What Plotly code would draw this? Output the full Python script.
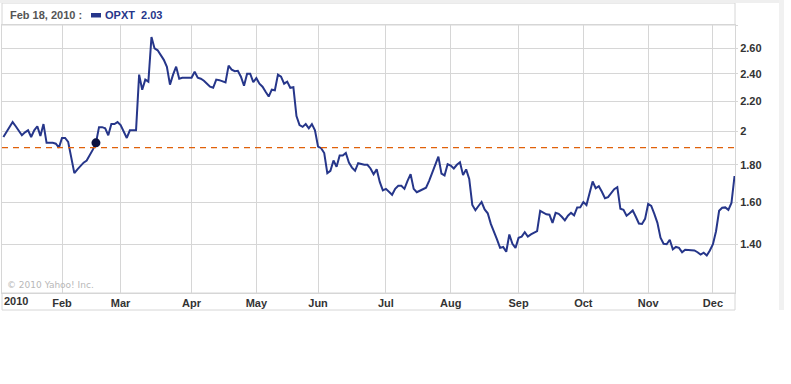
import plotly.graph_objects as go
import math

# Daily closes of OPXT, 2010 (trading days)
jan = [1.965, 1.994, 2.027, 2.060, 2.033, 2.007, 1.976, 1.994, 2.007, 1.965,
       2.007, 2.033, 1.971, 2.047, 1.929, 1.929, 1.929, 1.924, 1.900]
feb = [1.959, 1.959, 1.935, 1.841, 1.753, 1.774, 1.795, 1.812, 1.824, 1.853,
       1.888, 1.929, 2.027, 2.027, 2.020, 1.976, 2.047, 2.047, 2.060]
mar = [2.040, 1.994, 1.959, 2.007, 2.007, 2.007, 2.393, 2.282, 2.356, 2.341,
       2.696, 2.600, 2.585, 2.546, 2.508, 2.454, 2.319, 2.393, 2.454, 2.363,
       2.370, 2.370, 2.370]
apr = [2.370, 2.415, 2.370, 2.363, 2.348, 2.326, 2.304, 2.296, 2.356, 2.352,
       2.344, 2.335, 2.462, 2.431, 2.419, 2.423, 2.378, 2.311, 2.400, 2.400,
       2.337]
may = [2.367, 2.326, 2.304, 2.267, 2.233, 2.282, 2.278, 2.393, 2.378, 2.326,
       2.341, 2.296, 2.300, 2.100, 2.040, 2.029, 2.047, 2.020, 2.047, 2.007]
jun = [1.906, 1.897, 1.868, 1.753, 1.766, 1.824, 1.789, 1.853, 1.853, 1.868,
       1.812, 1.784, 1.766, 1.809, 1.803, 1.800, 1.800, 1.779, 1.747, 1.774,
       1.705, 1.660]
jul = [1.668, 1.653, 1.637, 1.668, 1.684, 1.684, 1.668, 1.711, 1.747, 1.668,
       1.650, 1.658, 1.666, 1.674, 1.711, 1.758, 1.795, 1.847, 1.750, 1.740,
       1.803]
aug = [1.795, 1.779, 1.800, 1.814, 1.742, 1.774, 1.721, 1.585, 1.559, 1.580,
       1.600, 1.563, 1.544, 1.493, 1.459, 1.422, 1.384, 1.388, 1.367, 1.444,
       1.402, 1.384]
sep = [1.429, 1.434, 1.454, 1.434, 1.444, 1.451, 1.459, 1.556, 1.546, 1.539,
       1.537, 1.498, 1.546, 1.541, 1.527, 1.510, 1.532, 1.546, 1.534, 1.573,
       1.574]
oct_ = [1.600, 1.585, 1.653, 1.707, 1.671, 1.682, 1.653, 1.619, 1.625, 1.647,
        1.666, 1.677, 1.566, 1.561, 1.532, 1.544, 1.558, 1.527, 1.495, 1.493,
        1.517]
nov = [1.590, 1.580, 1.541, 1.498, 1.429, 1.402, 1.400, 1.420, 1.378, 1.388,
       1.384, 1.365, 1.376, 1.376, 1.373, 1.373, 1.365, 1.355, 1.363, 1.351,
       1.373]
dec = [1.400, 1.459, 1.556, 1.571, 1.573, 1.561, 1.595, 1.737]

months = [jan, feb, mar, apr, may, jun, jul, aug, sep, oct_, nov, dec]
month_labels = ["2010", "Feb", "Mar", "Apr", "May", "Jun", "Jul", "Aug",
                "Sep", "Oct", "Nov", "Dec"]
y_ticks = [1.4, 1.6, 1.8, 2.0, 2.2, 2.4, 2.6, 2.8]
y_tick_text = ["1.40", "1.60", "1.80", "2", "2.20", "2.40", "2.60", ""]
y_min, y_max = 1.2, 2.8
prev_close = 1.90
hover_index = 30
hover_date = "Feb 18, 2010 :"
symbol = "OPXT"
symbol_value = "2.03"

values = [v for m in months for v in m]
xs = list(range(len(values)))
month_starts = []
acc = 0
for m in months:
    month_starts.append(acc)
    acc += len(m)

GRID = "#d6d6d6"
LINE = "#26368a"
TXT = "#333333"
FONT = "Liberation Sans, Arial, sans-serif"

W, H = 791, 384
ML, MR, MT, MB = 2, 56, 25, 91
PW, PH = W - ML - MR, H - MT - MB


def px_x(p):
    return (p - ML) / PW


def px_y(p):
    return 1 - (p - MT) / PH


fig = go.Figure()
fig.add_trace(go.Scatter(x=xs, y=values, mode="lines",
                         line=dict(color=LINE, width=2), hoverinfo="skip",
                         showlegend=False))
fig.add_trace(go.Scatter(x=[xs[hover_index]], y=[values[hover_index]],
                         mode="markers",
                         marker=dict(color="#0b1140", size=9),
                         hoverinfo="skip", showlegend=False))

shapes = [
    dict(type="line", xref="paper", x0=0, x1=1, yref="y",
         y0=prev_close, y1=prev_close,
         line=dict(color="#e0600a", width=1.2, dash="6px,5px"), layer="above"),
    dict(type="rect", xref="paper", yref="paper", x0=0, x1=1,
         y0=1, y1=px_y(3), line=dict(color=GRID, width=1), layer="below"),
    dict(type="rect", xref="paper", yref="paper", x0=0, x1=1,
         y0=px_y(310), y1=0, line=dict(color=GRID, width=1), layer="below"),
    dict(type="rect", xref="paper", yref="paper", x0=px_x(0), x1=px_x(782),
         y0=px_y(3), y1=px_y(0), fillcolor="#efefef", line=dict(width=0),
         layer="below"),
    dict(type="rect", xref="paper", yref="paper", x0=px_x(779), x1=px_x(784),
         y0=px_y(310), y1=px_y(0), fillcolor="#f1f1f1", line=dict(width=0),
         layer="below"),
    dict(type="rect", xref="paper", yref="paper", x0=px_x(91), x1=px_x(101),
         y0=px_y(17.5), y1=px_y(13), fillcolor=LINE, line=dict(width=0)),
]

annotations = [
    dict(text=hover_date, xref="paper", yref="paper", x=px_x(8), y=px_y(15),
         xanchor="left", yanchor="middle", showarrow=False,
         font=dict(family=FONT, size=11, color="#555555", weight="bold")),
    dict(text=f"{symbol}&nbsp;&nbsp;{symbol_value}", xref="paper", yref="paper",
         x=px_x(103), y=px_y(15), xanchor="left", yanchor="middle",
         showarrow=False,
         font=dict(family=FONT, size=11, color=LINE, weight="bold")),
    dict(text="© 2010 Yahoo! Inc.", xref="paper", yref="paper", x=px_x(5),
         y=px_y(285), xanchor="left", yanchor="middle", showarrow=False,
         font=dict(family="DejaVu Sans", size=9, color="#b8b8b8")),
    dict(text=month_labels[0], xref="paper", yref="paper", x=px_x(2),
         y=px_y(301), xanchor="left", yanchor="middle", showarrow=False,
         font=dict(family=FONT, size=11, color=TXT, weight="bold")),
]

fig.update_layout(
    width=W, height=H,
    margin=dict(l=ML, r=MR, t=MT, b=MB),
    paper_bgcolor="white", plot_bgcolor="white",
    shapes=shapes, annotations=annotations,
    xaxis=dict(range=[-0.45, len(values) - 0.85],
               tickvals=month_starts[1:], ticktext=month_labels[1:],
               showgrid=True, gridcolor=GRID, gridwidth=1,
               showline=True, mirror=True, linecolor=GRID, linewidth=1,
               ticks="", zeroline=False,
               tickfont=dict(family=FONT, size=11, color=TXT, weight="bold")),
    yaxis=dict(type="log", range=[math.log10(y_min), math.log10(y_max)],
               side="right", tickvals=y_ticks, ticktext=y_tick_text,
               showgrid=True, gridcolor=GRID, gridwidth=1,
               showline=True, mirror=True, linecolor=GRID, linewidth=1,
               ticks="outside", ticklen=2, tickcolor=GRID, zeroline=False,
               tickfont=dict(family=FONT, size=11, color=TXT, weight="bold")),
)

fig.write_html("out.html", config={"displayModeBar": False},
               post_script="document.body.style.margin='0';")
